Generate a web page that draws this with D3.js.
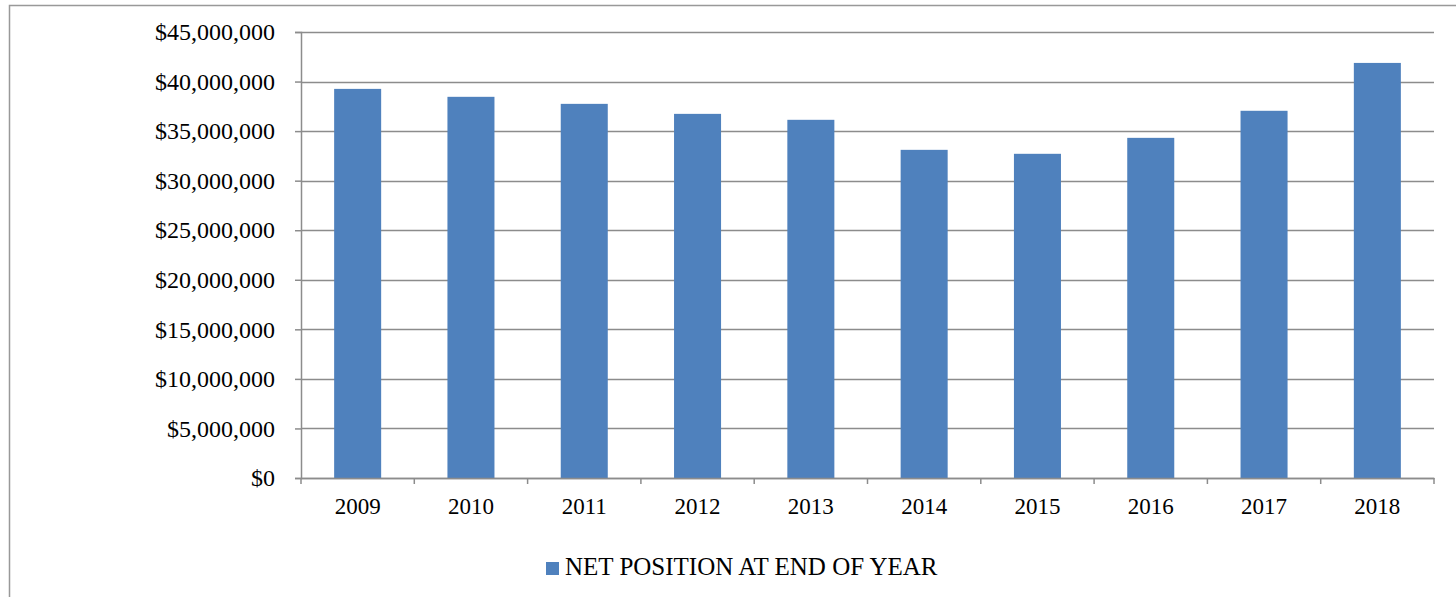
<!DOCTYPE html>
<html><head><meta charset="utf-8">
<script src="https://cdn.jsdelivr.net/npm/d3@7"></script>
<style>body{margin:0;background:#fff}svg{display:block}</style>
</head><body>
<script>
const categories = ["2009","2010","2011","2012","2013","2014","2015","2016","2017","2018"];
const values = [39260000,38460000,37750000,36740000,36140000,33110000,32710000,34320000,37050000,41880000];
const yTicks = [0,5000000,10000000,15000000,20000000,25000000,30000000,35000000,40000000,45000000];
const seriesName = "NET POSITION AT END OF YEAR";

(function(){
const W = 1456, H = 597;
const svg = d3.select("body").append("svg").attr("width", W).attr("height", H);
const font = "'Liberation Serif','Times New Roman',serif";

svg.append("rect").attr("x",9.5).attr("y",5.5).attr("width",W+10).attr("height",H+10)
  .attr("fill","none").attr("stroke","#999").attr("stroke-width",1.5);

const pLeft = 301, pRight = 1434, pTop = 32, pBottom = 478;
const x = d3.scaleBand().domain(categories).range([pLeft,pRight]).paddingInner(0.585).paddingOuter(0.2925);
const xb = d3.scaleBand().domain(categories).range([pLeft,pRight]);
const y = d3.scaleLinear().domain([0,45000000]).range([pBottom,pTop]);

svg.append("g").selectAll("line").data(yTicks).join("line")
  .attr("x1",pLeft).attr("x2",pRight)
  .attr("y1",d=>Math.round(y(d))+0.5).attr("y2",d=>Math.round(y(d))+0.5)
  .attr("stroke","#8c8c8c").attr("stroke-width",1.5);

svg.append("g").selectAll("rect").data(values).join("rect")
  .attr("x",(d,i)=>x(categories[i])).attr("width",x.bandwidth())
  .attr("y",d=>y(d)).attr("height",d=>pBottom-y(d))
  .attr("fill","#4F81BD");

const yAxis = d3.axisLeft(y).tickValues(yTicks).tickSize(6).tickPadding(20)
  .tickFormat(d=>"$"+d3.format(",")(d));
const gy = svg.append("g").attr("transform",`translate(${pLeft},0)`).call(yAxis);
gy.select(".domain").attr("stroke","#8c8c8c").attr("stroke-width",1.5);
gy.selectAll(".tick line").attr("stroke","#8c8c8c").attr("stroke-width",1.5);
gy.selectAll("text").attr("font-family",font).attr("font-size",24).attr("fill","#000");

const gx = svg.append("g").attr("transform",`translate(0,${pBottom})`)
  .call(d3.axisBottom(xb).tickSize(0).tickPadding(20));
gx.select(".domain").attr("stroke","#8c8c8c").attr("stroke-width",1.5);
gx.selectAll("text").attr("font-family",font).attr("font-size",23).attr("fill","#000");
const bounds = categories.map(c=>xb(c)).concat([pRight]);
gx.append("g").selectAll("line").data(bounds).join("line")
  .attr("x1",d=>d).attr("x2",d=>d).attr("y1",0).attr("y2",6)
  .attr("stroke","#8c8c8c").attr("stroke-width",1.5);

const lg = svg.append("g");
lg.append("rect").attr("x",546).attr("y",562).attr("width",13).attr("height",13).attr("fill","#4F81BD");
lg.append("text").attr("x",565).attr("y",575).attr("font-family",font).attr("font-size",25)
  .attr("fill","#000").text(seriesName);
})();
</script>
</body></html>
